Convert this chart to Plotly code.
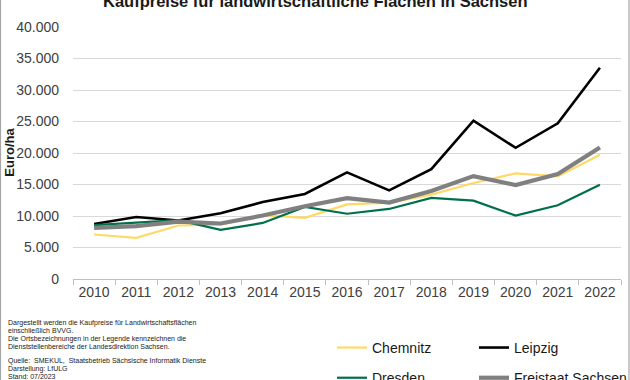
import plotly.graph_objects as go

years = ["2010", "2011", "2012", "2013", "2014", "2015", "2016", "2017", "2018", "2019", "2020", "2021", "2022"]
chemnitz = [7060, 6530, 8490, 8640, 10120, 9700, 11850, 12120, 13390, 15230, 16760, 16280, 19710]
leipzig = [8740, 9850, 9280, 10430, 12220, 13490, 16920, 14070, 17440, 25140, 20820, 24710, 33520]
dresden = [8540, 8900, 9330, 7800, 8900, 11430, 10360, 11120, 12860, 12440, 10070, 11700, 14970]
sachsen = [8110, 8380, 9120, 8810, 10070, 11540, 12830, 12120, 13960, 16330, 14910, 16650, 20870]
y_ticks = [0, 5000, 10000, 15000, 20000, 25000, 30000, 35000, 40000]
y_tick_text = ["0", "5.000", "10.000", "15.000", "20.000", "25.000", "30.000", "35.000", "40.000"]

title = "Kaufpreise für landwirtschaftliche Flächen in Sachsen"
footnote = [
    "Dargestellt werden die Kaufpreise für Landwirtschaftsflächen",
    "einschließlich BVVG.",
    "Die Ortsbezeichnungen in der Legende kennzeichnen die",
    "Dienststellenbereiche der Landesdirektion Sachsen.",
    "Quelle:  SMEKUL,  Staatsbetrieb Sächsische Informatik Dienste",
    "Darstellung: LfULG",
    "Stand: 07/2023",
]
foot_y = [323, 331, 339, 347, 361, 369, 377]

W, H = 630, 380
L, R, T, B = 73, 9, 26.7, 101
pw, ph = W - L - R, H - T - B

def px(x):
    return (x - L) / pw

def py(y):
    return (H - B - y) / ph

FONT = "Liberation Sans, Arial, sans-serif"

fig = go.Figure()
series = [
    ("Chemnitz", chemnitz, "#FFD966", 2.2, "legend"),
    ("Leipzig", leipzig, "#000000", 2.6, "legend2"),
    ("Dresden", dresden, "#00704A", 2.2, "legend"),
    ("Freistaat Sachsen", sachsen, "#808080", 4.2, "legend2"),
]
for name, vals, col, w, lg in series:
    fig.add_trace(go.Scatter(
        x=years, y=vals, name=name, mode="lines",
        line=dict(color=col, width=w),
        legend=lg, legendgroup=name,
    ))

fig.update_layout(
    width=W, height=H,
    margin=dict(l=L, r=R, t=T, b=B, autoexpand=False),
    paper_bgcolor="white", plot_bgcolor="white",
    font=dict(family=FONT, size=14, color="#404040"),
    showlegend=True,
    legend=dict(x=px(332), y=py(332), xanchor="left", yanchor="top",
                orientation="v", tracegroupgap=9,
                font=dict(family=FONT, size=14, color="#1a1a1a"),
                bgcolor="rgba(0,0,0,0)"),
    legend2=dict(x=px(474), y=py(332), xanchor="left", yanchor="top",
                 orientation="v", tracegroupgap=9,
                 font=dict(family=FONT, size=14, color="#1a1a1a"),
                 bgcolor="rgba(0,0,0,0)"),
    xaxis=dict(
        type="category", range=[-0.5, len(years) - 0.5],
        tickson="boundaries", ticks="outside", ticklen=5,
        tickcolor="#BFBFBF", showline=True, linecolor="#BFBFBF", linewidth=1,
        showgrid=False, tickfont=dict(size=14, color="#404040"),
    ),
    yaxis=dict(
        range=[0, 40000], tickvals=y_ticks, ticktext=y_tick_text,
        showgrid=True, gridcolor="#D9D9D9", gridwidth=1.3,
        zeroline=False, showline=False, ticks="", ticklabelstandoff=13,
        tickfont=dict(size=14, color="#404040"),
    ),
)

annotations = [
    dict(text="<b>" + title + "</b>", x=px(315), y=py(1), xref="paper", yref="paper",
         xanchor="center", yanchor="middle", showarrow=False,
         font=dict(family=FONT, size=16.5, color="#1a1a1a")),
    dict(text="<b>Euro/ha</b>", x=px(10), y=py(152.5), xref="paper", yref="paper",
         xanchor="center", yanchor="middle", showarrow=False, textangle=-90,
         font=dict(family=FONT, size=13, color="#1a1a1a")),
]
for line, yy in zip(footnote, foot_y):
    annotations.append(dict(text=line, x=px(6), y=py(yy), xref="paper", yref="paper",
                            xanchor="left", yanchor="middle", showarrow=False,
                            font=dict(family=FONT, size=7, color="#1a1a1a")))
fig.update_layout(annotations=annotations)

fig.add_shape(type="rect", xref="paper", yref="paper",
              x0=px(0.5), x1=px(629), y0=py(-5), y1=py(385),
              line=dict(color="#A6A6A6", width=1.2), layer="above")

fig.write_html("out.html", config={"displayModeBar": False},
               post_script="document.body.style.margin='0';document.body.style.overflow='hidden';")
